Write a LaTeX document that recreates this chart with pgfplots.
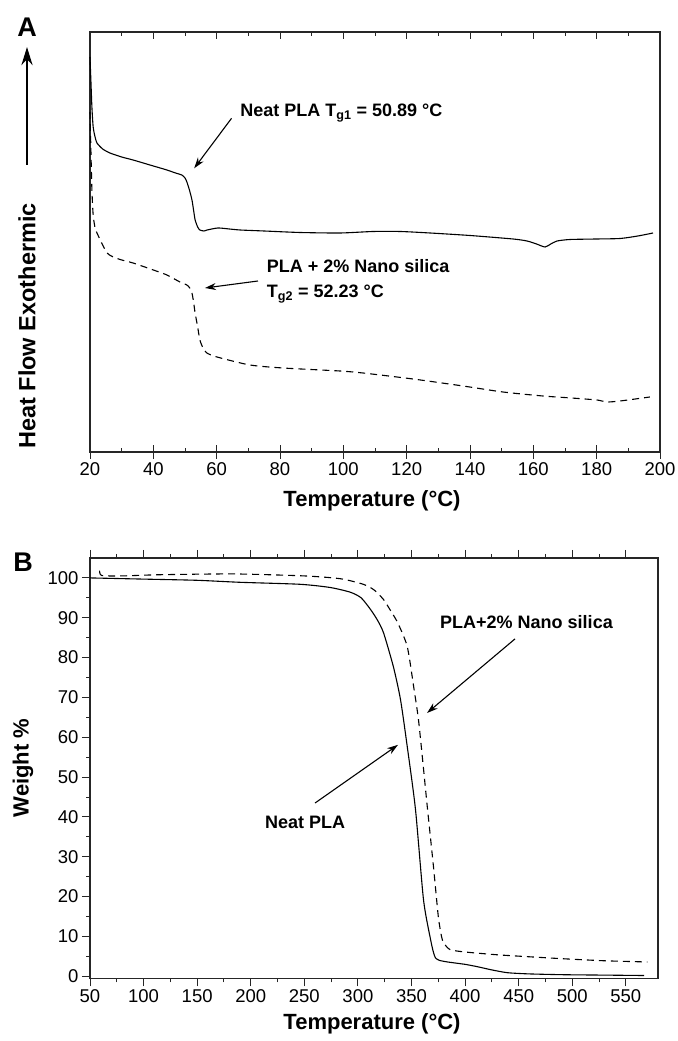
\documentclass[border=0pt]{standalone}
\usepackage{fontspec}
\setmainfont{Liberation Sans}
\usepackage{pgfplots}
\pgfplotsset{compat=1.18}
\usetikzlibrary{arrows.meta}
\newcommand{\tickfont}{\fontsize{18.5bp}{21bp}\selectfont}
\newcommand{\annfont}{\fontsize{18bp}{21bp}\selectfont\bfseries}
\newcommand{\labfont}{\fontsize{22bp}{26bp}\selectfont\bfseries}
\tikzset{
  ann/.style={-{Stealth[length=11bp,width=7bp]}, line width=1.1bp, black},
  curve/.style={black, line width=1.1bp, smooth, tension=0.4},
  dcurve/.style={black, line width=1.1bp, smooth, tension=0.4, dash pattern=on 7bp off 5bp},
}
\begin{document}
\begin{tikzpicture}
\useasboundingbox (0,0) rectangle (678bp,1041bp);
\pgfplotsset{
  common/.style={scale only axis, anchor=south west,
    axis line style={line width=1.3bp, black!85},
    tick style={line width=1bp, black!85},
    ticklabel style={font=\tickfont},
    /pgf/number format/assume math mode=true,
    clip=false},
}
% ---------------- Panel A ----------------
\begin{axis}[common, at={(90bp,589bp)}, width=570bp, height=420bp,
  xmin=20, xmax=200, ymin=0, ymax=420,
  xtick={20,40,...,200}, minor x tick num=1, xticklabels={},
  ytick=\empty, tick align=inside,
  major tick length=7bp, minor tick length=4bp]
\addplot[curve, no marks] coordinates {
(20,395) (20.3,370) (20.6,345) (21,325) (21.6,315) (22.2,309) (24,303) (26.3,299)
(30,295) (33.6,292) (40,286) (44.3,282) (47,279) (49,277) (50,274) (50.6,270)
(51.4,262) (52.2,252) (52.7,242) (53.2,232) (54,225) (54.7,222) (56,221) (57,222)
(60.4,224) (64,223) (67.4,222) (75,221) (86.3,219.5) (99,219) (109.4,220.5)
(118,220.5) (127.4,219) (140,216.5) (153.6,213) (158,211) (161,208) (163.7,205)
(165.5,208) (167.5,211) (171.6,212.5) (180,213) (187.4,213.5) (193,216) (197.8,219)};
\addplot[dcurve, no marks] coordinates {
(20,340) (20.3,300) (20.6,262) (21,237) (21.6,224) (22.2,219) (25.4,199)
(29,193) (33.6,189) (40,182) (44.3,177) (48.4,170) (50.6,167) (51.5,164)
(52.2,159) (52.7,150) (53.2,139) (54,125) (54.7,112) (55.7,104) (56.9,99)
(60.1,95) (70.5,87) (80.9,84) (98.9,81) (106.2,79) (122,73) (137.8,66)
(150.4,60) (163,56) (172,54) (180.1,52) (183.2,50) (187.4,51) (196.8,55)};
\node[anchor=base west, font=\annfont, inner sep=0pt] at (axis cs:67.4,335)
  {Neat PLA T\textsubscript{g1} = 50.89 °C};
\draw[ann] (axis cs:64.7,333.7) -- (axis cs:52.9,283.7);
\node[anchor=base west, font=\annfont, inner sep=0pt] at (axis cs:75.8,179)
  {PLA + 2\% Nano silica};
\node[anchor=base west, font=\annfont, inner sep=0pt] at (axis cs:75.8,154)
  {T\textsubscript{g2} = 52.23 °C};
\draw[ann] (axis cs:73.05,171) -- (axis cs:56.3,164);
\end{axis}
\begin{axis}[common, at={(90bp,589bp)}, width=570bp, height=420bp,
  xmin=20, xmax=200, ymin=0, ymax=420,
  axis x line*=bottom, axis y line=none,
  xtick={20,40,...,200}, tick align=outside, major tick length=7bp]
\end{axis}
% ---------------- Panel B ----------------
\begin{axis}[common, at={(90bp,62.7bp)}, width=568bp, height=420.3bp,
  xmin=50, xmax=580, ymin=-0.5, ymax=105,
  xtick={50,100,...,550}, minor x tick num=1,
  ytick={0,10,...,100}, minor y tick num=1,
  tick align=outside, xtick pos=both, ytick pos=left,
  xticklabel pos=bottom,
  major tick length=8bp, minor tick length=4bp]
\addplot[curve, no marks] coordinates {
(50,100) (100,99.7) (150,99.4) (190,98.9) (246,98.4) (274,97.6) (293,96.4)
(303,95) (311.7,92.1) (318,89.5) (323.8,86.3) (333,77.8) (339.7,69.5) (346,57.7)
(353.7,41.9) (361.2,19.2) (367.8,9.2) (370.5,6) (372.4,4.6) (376,4) (383.6,3.6)
(400,3) (411.7,2.4) (425,1.6) (439.7,0.9) (460,0.6) (492,0.4) (530,0.3) (567,0.2)};
\addplot[dcurve, no marks] coordinates {
(59,101.8) (61,100.6) (80,100.5) (115,100.8) (184,101) (250,100.5) (283.6,99.8)
(305,98.4) (315,97) (323.8,94.6) (330,92) (337,88.8) (346,82.8) (352,72.7)
(356.5,64.4) (361,52.6) (365,41.8) (370.5,27.5) (375,15) (378,10) (380,8.4)
(386,6.7) (400,6.1) (430,5.4) (460,4.9) (492,4.4) (530,3.9) (570,3.6)};
\node[anchor=base west, font=\annfont, inner sep=0pt] at (axis cs:376.6,87.4)
  {PLA+2\% Nano silica};
\draw[ann] (axis cs:446.6,84.7) -- (axis cs:364.5,66.1);
\node[anchor=base west, font=\annfont, inner sep=0pt] at (axis cs:213.3,37.2)
  {Neat PLA};
\draw[ann] (axis cs:260,43.5) -- (axis cs:337.4,58.1);
\end{axis}
% ---------------- labels ----------------
\node[font=\fontsize{27bp}{30bp}\selectfont\bfseries, inner sep=0pt] at (27bp,1014bp) {A};
\node[font=\fontsize{27bp}{30bp}\selectfont\bfseries, inner sep=0pt] at (23bp,479bp) {B};
\draw[-{Stealth[length=18bp,width=11bp]}, line width=2.6bp, black] (27bp,876bp) -- (27bp,994bp);
\node[font=\fontsize{23.5bp}{27bp}\selectfont\bfseries, rotate=90, inner sep=0pt] at (27bp,715bp) {Heat Flow Exothermic};
\node[font=\labfont, rotate=90, inner sep=0pt] at (23bp,273bp) {Weight \%};
\node[font=\labfont, inner sep=0pt] at (372bp,540bp) {Temperature (°C)};
\node[font=\labfont, inner sep=0pt] at (372bp,17bp) {Temperature (°C)};
\end{tikzpicture}
\end{document}
